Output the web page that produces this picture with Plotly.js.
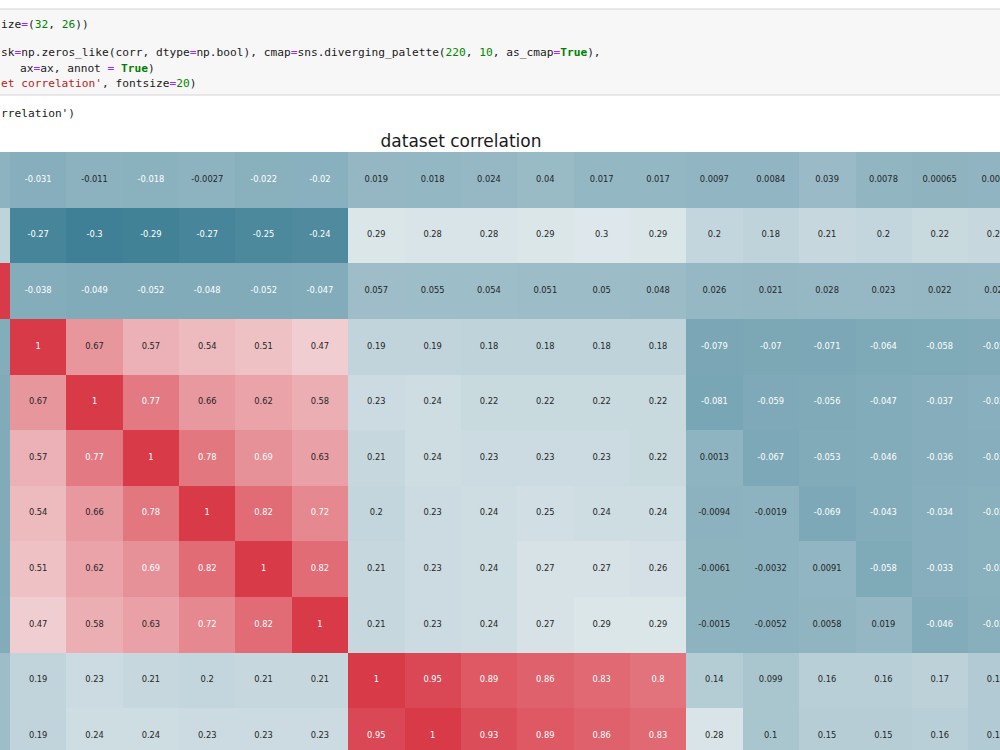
<!DOCTYPE html>
<html>
<head>
<meta charset="utf-8">
<script src="https://cdn.plot.ly/plotly-3.0.1.min.js"></script>
<style>
  html, body { margin: 0; padding: 0; background: #ffffff; }
  #chart { width: 1000px; height: 750px; }
</style>
</head>
<body>
<div id="chart"></div>
<script>
// ---- data (visible part of the correlation matrix) ----
const r0  = [-0.0051, -0.031, -0.011, -0.018, -0.0027, -0.022, -0.02, 0.019, 0.018, 0.024, 0.04, 0.017, 0.017, 0.0097, 0.0084, 0.039, 0.0078, 0.00065, 0.0049];
const r1  = [0.18, -0.27, -0.3, -0.29, -0.27, -0.25, -0.24, 0.29, 0.28, 0.28, 0.29, 0.3, 0.29, 0.2, 0.18, 0.21, 0.2, 0.22, 0.21];
const r2  = [1, -0.038, -0.049, -0.052, -0.048, -0.052, -0.047, 0.057, 0.055, 0.054, 0.051, 0.05, 0.048, 0.026, 0.021, 0.028, 0.023, 0.022, 0.024];
const r3  = [-0.038, 1, 0.67, 0.57, 0.54, 0.51, 0.47, 0.19, 0.19, 0.18, 0.18, 0.18, 0.18, -0.079, -0.07, -0.071, -0.064, -0.058, -0.052];
const r4  = [-0.049, 0.67, 1, 0.77, 0.66, 0.62, 0.58, 0.23, 0.24, 0.22, 0.22, 0.22, 0.22, -0.081, -0.059, -0.056, -0.047, -0.037, -0.027];
const r5  = [-0.052, 0.57, 0.77, 1, 0.78, 0.69, 0.63, 0.21, 0.24, 0.23, 0.23, 0.23, 0.22, 0.0013, -0.067, -0.053, -0.046, -0.036, -0.031];
const r6  = [-0.048, 0.54, 0.66, 0.78, 1, 0.82, 0.72, 0.2, 0.23, 0.24, 0.25, 0.24, 0.24, -0.0094, -0.0019, -0.069, -0.043, -0.034, -0.022];
const r7  = [-0.052, 0.51, 0.62, 0.69, 0.82, 1, 0.82, 0.21, 0.23, 0.24, 0.27, 0.27, 0.26, -0.0061, -0.0032, 0.0091, -0.058, -0.033, -0.024];
const r8  = [-0.047, 0.47, 0.58, 0.63, 0.72, 0.82, 1, 0.21, 0.23, 0.24, 0.27, 0.29, 0.29, -0.0015, -0.0052, 0.0058, 0.019, -0.046, -0.029];
const r9  = [0.057, 0.19, 0.23, 0.21, 0.2, 0.21, 0.21, 1, 0.95, 0.89, 0.86, 0.83, 0.8, 0.14, 0.099, 0.16, 0.16, 0.17, 0.13];
const r10 = [0.055, 0.19, 0.24, 0.24, 0.23, 0.23, 0.23, 0.95, 1, 0.93, 0.89, 0.86, 0.83, 0.28, 0.1, 0.15, 0.15, 0.16, 0.13];

const titleText = "dataset correlation";

// notebook code cell text visible above the figure
const codeLines = [
  "ize=(32, 26))",
  "",
  "sk=np.zeros_like(corr, dtype=np.bool), cmap=sns.diverging_palette(220, 10, as_cmap=True),",
  "ax=ax, annot = True)",
  "et correlation', fontsize=20)"
];
const outputLine = "rrelation')";

// ---- build ----
const z = [r0, r1, r2, r3, r4, r5, r6, r7, r8, r9, r10];
const colIdx = r0.map((_, i) => i);
const rowIdx = z.map((_, i) => i);

function fmt2g(v) { return String(Number(v.toPrecision(2))); }

const tx = [], ty = [], tt = [], tc = [];
z.forEach((row, ri) => row.forEach((v, ci) => {
  tx.push(colIdx[ci]); ty.push(rowIdx[ri]); tt.push(fmt2g(v));
  tc.push((v < -0.015 || v > 0.68) ? '#ffffff' : '#262626');
}));

const colorscale = [
  [0, '#3f8096'], [0.496, '#eaeff1'], [0.5, '#f2f2f2'], [0.504, '#f5eded'], [1, '#d93a48']
];

const heat = {
  type: 'heatmap', x: colIdx, y: rowIdx, z: z,
  zmin: -0.3, zmax: 1, colorscale: colorscale, showscale: false,
  hoverinfo: 'skip'
};
const labels = {
  type: 'scatter', mode: 'text', x: tx, y: ty, text: tt,
  textfont: { family: 'DejaVu Sans', size: 8.3, color: tc },
  textposition: 'middle center', cliponaxis: true, hoverinfo: 'skip', showlegend: false
};

// simple notebook-style syntax colouring
function esc(s) { return s.replace(/&/g, '&amp;').replace(/</g, '&lt;').replace(/>/g, '&gt;'); }
function highlight(line) {
  const re = /(^[^'=(]*'|'[^']*'|True|\d+|=|[^'\d=T]+|T)/g;
  let out = '', m;
  while ((m = re.exec(line)) !== null) {
    const t = m[0];
    if (t.includes("'")) out += '<span style="color:#ba2121">' + esc(t) + '</span>';
    else if (t === 'True') out += '<span style="color:#008000"><b>True</b></span>';
    else if (/^\d+$/.test(t)) out += '<span style="color:#008800">' + t + '</span>';
    else if (t === '=') out += '<span style="color:#aa22ff">=</span>';
    else out += '<span style="color:#1a1a1a">' + esc(t) + '</span>';
  }
  return out;
}

const lineY = [24, 39, 53, 68, 83];
const lineX = [0, 0, 0, 19, 0];
const annotations = [];
codeLines.forEach((ln, i) => {
  if (!ln) return;
  annotations.push({
    xref: 'paper', yref: 'paper', x: lineX[i] / 1000, y: 1 - lineY[i] / 750,
    xanchor: 'left', yanchor: 'middle', showarrow: false, borderpad: 0,
    text: highlight(ln),
    font: { family: 'DejaVu Sans Mono', size: 11.2, color: '#1a1a1a' }
  });
});
annotations.push({
  xref: 'paper', yref: 'paper', x: 0, y: 1 - 113 / 750,
  xanchor: 'left', yanchor: 'middle', showarrow: false, borderpad: 0,
  text: esc(outputLine),
  font: { family: 'DejaVu Sans Mono', size: 11.2, color: '#1a1a1a' }
});

const layout = {
  width: 1000, height: 750,
  margin: { l: 0, r: 0, t: 0, b: 0 },
  paper_bgcolor: '#ffffff', plot_bgcolor: '#ffffff',
  showlegend: false,
  title: {
    text: titleText, xref: 'container', yref: 'container',
    x: 0.461, y: 1 - 141 / 750, xanchor: 'center', yanchor: 'middle',
    font: { family: 'DejaVu Sans', size: 17, color: '#1a1a1a' }
  },
  xaxis: {
    domain: [0, 1], range: [0.3226, 18.069],
    showticklabels: false, ticks: '', showgrid: false, zeroline: false, showline: false
  },
  yaxis: {
    domain: [0, 598 / 750], range: [10.255, -0.5],
    showticklabels: false, ticks: '', showgrid: false, zeroline: false, showline: false
  },
  shapes: [{
    type: 'rect', xref: 'paper', yref: 'paper', layer: 'below',
    x0: -0.01, x1: 1.01, y0: 1 - 95 / 750, y1: 1 - 9 / 750,
    fillcolor: '#f7f7f7', line: { color: '#d4d4d4', width: 1 }
  }],
  annotations: annotations
};

Plotly.newPlot('chart', [heat, labels], layout, { staticPlot: true, displayModeBar: false });
</script>
</body>
</html>
